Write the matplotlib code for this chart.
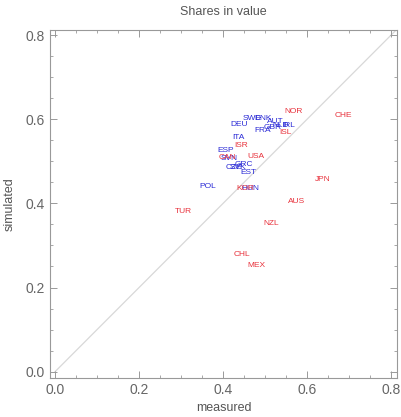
import matplotlib
matplotlib.use("Agg")
import matplotlib.pyplot as plt
from matplotlib.ticker import MultipleLocator

plt.rcParams['font.family'] = ['Liberation Sans', 'DejaVu Sans']

# countries coloured red
red_names = ['NOR', 'CHE', 'ISL', 'ISR', 'CAN', 'USA', 'JPN', 'AUS', 'NZL',
             'TUR', 'CHL', 'MEX', 'KOR']
red_x = [0.567, 0.686, 0.548, 0.443, 0.410, 0.479, 0.638, 0.576, 0.514,
         0.305, 0.445, 0.479, 0.452]
red_y = [0.619, 0.610, 0.569, 0.538, 0.510, 0.512, 0.457, 0.405, 0.352,
         0.381, 0.279, 0.252, 0.436]

# countries coloured blue
blue_names = ['SWE', 'DNK', 'DEU', 'AUT', 'FRA', 'GBR', 'NLD', 'IRL', 'ITA',
              'ESP', 'SVN', 'CZE', 'SVK', 'GRC', 'EST', 'POL', 'HUN']
blue_x = [0.469, 0.495, 0.438, 0.524, 0.495, 0.517, 0.536, 0.555, 0.436,
          0.407, 0.414, 0.426, 0.436, 0.450, 0.460, 0.364, 0.464]
blue_y = [0.602, 0.602, 0.588, 0.595, 0.574, 0.581, 0.586, 0.586, 0.557,
          0.526, 0.507, 0.486, 0.486, 0.493, 0.474, 0.440, 0.436]

fig = plt.figure(figsize=(4.01, 4.17), dpi=100)
ax = fig.add_axes([50 / 401, 39 / 417, 347 / 401, 348 / 417])

ax.plot([0, 0.82], [0, 0.82], color='#d8d8d8', lw=0.9, zorder=1)

for n, x, y in zip(blue_names, blue_x, blue_y):
    ax.text(x, y, n, color='#2b2bd6', fontsize=6, ha='center', va='center')
for n, x, y in zip(red_names, red_x, red_y):
    ax.text(x, y, n, color='#e8323c', fontsize=6, ha='center', va='center')

ax.set_xlim(-0.012, 0.814)
ax.set_ylim(-0.015, 0.812)

for s in ax.spines.values():
    s.set_color('#999999')
    s.set_linewidth(0.8)
ax.xaxis.set_major_locator(MultipleLocator(0.2))
ax.yaxis.set_major_locator(MultipleLocator(0.2))
ax.xaxis.set_minor_locator(MultipleLocator(0.05))
ax.yaxis.set_minor_locator(MultipleLocator(0.05))
ax.tick_params(which='both', direction='in', top=True, right=True,
               color='#999999', labelcolor='#666666', labelsize=10)
ax.tick_params(which='major', length=5, width=0.7)
ax.tick_params(which='minor', length=2.5, width=0.6)
ax.xaxis.set_major_formatter(lambda v, p: f'{v:.1f}')
ax.yaxis.set_major_formatter(lambda v, p: f'{v:.1f}')

ax.set_title('Shares in value', color='#555555', fontsize=9, pad=11)
ax.set_xlabel('measured', color='#555555', fontsize=9, labelpad=4)
ax.set_ylabel('simulated', color='#555555', fontsize=9, labelpad=7)

fig.savefig('out.png', dpi=100)
